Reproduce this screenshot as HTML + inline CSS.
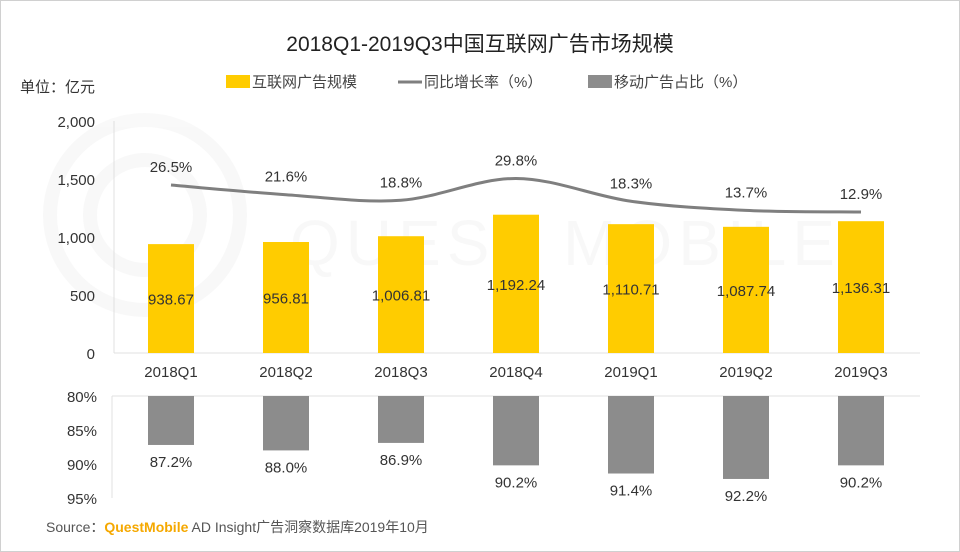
<!DOCTYPE html>
<html><head><meta charset="utf-8"><style>
body{margin:0;background:#fff}
svg{display:block;font-family:"Liberation Sans","Noto Sans CJK SC",sans-serif}
</style></head><body>
<svg width="960" height="552" viewBox="0 0 960 552">
<rect x="0.5" y="0.5" width="959" height="551" fill="#fff" stroke="#d0d0d0"/>
<g opacity="0.035" fill="none" stroke="#555" stroke-width="14">
<circle cx="145" cy="215" r="95"/><circle cx="145" cy="215" r="55"/>
<text x="290" y="265" font-size="64" fill="#555" stroke="none" letter-spacing="6">QUEST MOBILE</text>
</g>
<text x="480" y="51" text-anchor="middle" font-size="21" fill="#222">2018Q1-2019Q3中国互联网广告市场规模</text>
<text x="20" y="92" font-size="15" fill="#333">单位：亿元</text>
<g font-size="15" fill="#444">
<g><rect x="226" y="75" width="24" height="13" fill="#FFCC00"/><text x="252" y="87">互联网广告规模</text></g>
<g><line x1="398" y1="82" x2="422" y2="82" stroke="#7f7f7f" stroke-width="3"/><text x="424" y="87">同比增长率（%）</text></g>
<g><rect x="588" y="75" width="24" height="13" fill="#8c8c8c"/><text x="614" y="87">移动广告占比（%）</text></g>
</g>
<g id="topPlot"></g>
<g id="botPlot"></g>
<text x="46" y="532" font-size="14" fill="#555">Source：<tspan fill="#F5A800" font-weight="bold">QuestMobile</tspan> AD Insight广告洞察数据库2019年10月</text>
</svg>
<script>
const categories=["2018Q1","2018Q2","2018Q3","2018Q4","2019Q1","2019Q2","2019Q3"];
const scaleValues=[938.67,956.81,1006.81,1192.24,1110.71,1087.74,1136.31];
const scaleLabels=["938.67","956.81","1,006.81","1,192.24","1,110.71","1,087.74","1,136.31"];
const growthValues=[26.5,21.6,18.8,29.8,18.3,13.7,12.9];
const mobileValues=[87.2,88.0,86.9,90.2,91.4,92.2,90.2];
const yTicks=[0,500,1000,1500,2000];
const yTickLabels=["0","500","1,000","1,500","2,000"];
const pTicks=[80,85,90,95];

const NS="http://www.w3.org/2000/svg";
function mk(tag,attrs,parent,txt){const e=document.createElementNS(NS,tag);for(const k in attrs)e.setAttribute(k,attrs[k]);if(txt!=null)e.textContent=txt;parent.appendChild(e);return e;}
const topG=document.getElementById('topPlot'),botG=document.getElementById('botPlot');
const xC=i=>171+i*115;
const yS=v=>353-v*232/2000;
const yG=v=>237.6-v*1.985;
const yP=v=>396+(v-80)*6.8;
const bw=46;
let a=mk('line',{x1:114,y1:121,x2:114,y2:353,stroke:'#e0e0e0'},topG);

a=mk('line',{x1:114,y1:353,x2:920,y2:353,stroke:'#e0e0e0'},topG);

yTicks.forEach((t,i)=>{const e=mk('text',{x:95,y:yS(t)+6,'text-anchor':'end','font-size':15,fill:'#333'},topG,yTickLabels[i]);
});
categories.forEach((c,i)=>{
const b=mk('rect',{x:xC(i)-bw/2,y:yS(scaleValues[i]),width:bw,height:353-yS(scaleValues[i]),fill:'#FFCC00'},topG);

const l=mk('text',{x:xC(i),y:(yS(scaleValues[i])+353)/2+6,'text-anchor':'middle','font-size':15,fill:'#333'},topG,scaleLabels[i]);

const x=mk('text',{x:xC(i),y:377,'text-anchor':'middle','font-size':15,fill:'#333'},topG,c);

const g=mk('text',{x:xC(i),y:yG(growthValues[i])-13,'text-anchor':'middle','font-size':15,fill:'#333'},topG,growthValues[i].toFixed(1)+'%');

});
const pts=growthValues.map((v,i)=>[xC(i),yG(v)]);
let d='M'+pts[0][0]+','+pts[0][1];
for(let i=0;i<pts.length-1;i++){const p0=pts[Math.max(0,i-1)],p1=pts[i],p2=pts[i+1],p3=pts[Math.min(pts.length-1,i+2)];
d+=` C${p1[0]+(p2[0]-p0[0])/6},${p1[1]+(p2[1]-p0[1])/6} ${p2[0]-(p3[0]-p1[0])/6},${p2[1]-(p3[1]-p1[1])/6} ${p2[0]},${p2[1]}`;}
const ln=mk('path',{d:d,fill:'none',stroke:'#7f7f7f','stroke-width':3},topG);

a=mk('line',{x1:112,y1:396,x2:112,y2:498,stroke:'#e0e0e0'},botG);

a=mk('line',{x1:112,y1:396,x2:920,y2:396,stroke:'#e0e0e0'},botG);

pTicks.forEach(t=>{const e=mk('text',{x:97,y:yP(t)+6,'text-anchor':'end','font-size':15,fill:'#333'},botG,t+'%');
});
categories.forEach((c,i)=>{
const b=mk('rect',{x:xC(i)-bw/2,y:396,width:bw,height:yP(mobileValues[i])-396,fill:'#8c8c8c'},botG);

const l=mk('text',{x:xC(i),y:yP(mobileValues[i])+22,'text-anchor':'middle','font-size':15,fill:'#333'},botG,mobileValues[i].toFixed(1)+'%');

});
</script>
</body></html>
